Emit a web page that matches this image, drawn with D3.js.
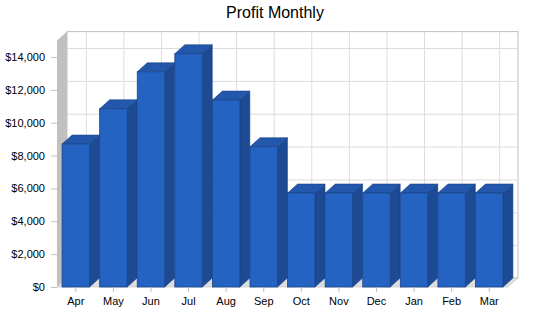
<!DOCTYPE html>
<html>
<head>
<meta charset="utf-8">
<script src="https://cdn.jsdelivr.net/npm/d3@7"></script>
<style>
  body { margin: 0; background: #fff; }
  text { font-family: "Liberation Sans", Arial, sans-serif; }
</style>
</head>
<body>
<svg id="chart" width="550" height="318"></svg>
<script>
const months = ['Apr', 'May', 'Jun', 'Jul', 'Aug', 'Sep', 'Oct', 'Nov', 'Dec', 'Jan', 'Feb', 'Mar'];
const profit = [8700, 10850, 13100, 14200, 11380, 8540, 5720, 5720, 5720, 5720, 5720, 5720];
const yTicks = [0, 2000, 4000, 6000, 8000, 10000, 12000, 14000];

const plotL = 57, plotR = 508, plotB = 287, plotT = 40.6;
const dx = 10, dy = -9;

const svg = d3.select('#chart');

const x = d3.scaleBand()
  .domain(months)
  .range([plotL, plotR]);
const y = d3.scaleLinear()
  .domain([0, 15000])
  .range([plotB, plotT]);

// title
svg.append('text')
  .attr('x', 275).attr('y', 18)
  .attr('text-anchor', 'middle')
  .attr('font-size', 16)
  .text('Profit Monthly');

// back wall
svg.append('rect')
  .attr('x', plotL + dx).attr('y', plotT + dy)
  .attr('width', plotR - plotL).attr('height', plotB - plotT)
  .attr('fill', '#fff').attr('stroke', '#c0c0c0');

// grid on back wall
svg.append('g').selectAll('line')
  .data(yTicks.slice(1))
  .enter().append('line')
  .attr('x1', plotL + dx).attr('x2', plotR + dx)
  .attr('y1', d => y(d) + dy + 0.5).attr('y2', d => y(d) + dy + 0.5)
  .attr('stroke', '#dcdcdc');
svg.append('g').selectAll('line')
  .data(months)
  .enter().append('line')
  .attr('x1', d => x(d) + x.bandwidth() / 2 + dx + 0.5)
  .attr('x2', d => x(d) + x.bandwidth() / 2 + dx + 0.5)
  .attr('y1', plotT + dy).attr('y2', plotB + dy)
  .attr('stroke', '#dcdcdc');

// left wall
svg.append('path')
  .attr('d', `M${plotL},${plotT}L${plotL + dx},${plotT + dy}L${plotL + dx},${plotB + dy}L${plotL},${plotB}Z`)
  .attr('fill', '#c0c0c0');

// floor
svg.append('path')
  .attr('d', `M${plotL},${plotB}L${plotR},${plotB}L${plotR + dx},${plotB + dy}L${plotL + dx},${plotB + dy}Z`)
  .attr('fill', '#dedede').attr('stroke', '#c8c8c8').attr('stroke-width', 0.7);

// bars
const bw = x.bandwidth() * 0.73;
const bars = svg.append('g').selectAll('g')
  .data(months.map((m, i) => ({ m, v: profit[i] })))
  .enter().append('g');

bars.append('path')   // side
  .attr('d', d => {
    const x1 = x(d.m) + (x.bandwidth() - bw) / 2 + bw, yt = y(d.v);
    return `M${x1},${plotB}L${x1 + dx},${plotB + dy}L${x1 + dx},${yt + dy}L${x1},${yt}Z`;
  })
  .attr('fill', '#1c4a93').attr('stroke', '#1a4488').attr('stroke-width', 0.6);

bars.append('path')   // top
  .attr('d', d => {
    const x0 = x(d.m) + (x.bandwidth() - bw) / 2, yt = y(d.v);
    return `M${x0},${yt}L${x0 + dx},${yt + dy}L${x0 + bw + dx},${yt + dy}L${x0 + bw},${yt}Z`;
  })
  .attr('fill', '#2257ac').attr('stroke', '#1a4488').attr('stroke-width', 0.6);

bars.append('rect')   // front
  .attr('x', d => x(d.m) + (x.bandwidth() - bw) / 2)
  .attr('y', d => y(d.v))
  .attr('width', bw)
  .attr('height', d => plotB - y(d.v))
  .attr('fill', '#2563c2').attr('stroke', '#1a4488').attr('stroke-width', 0.8);

// axes
const yAxis = d3.axisLeft(y)
  .tickValues(yTicks)
  .tickSize(6)
  .tickFormat(d => '$' + d3.format(',')(d));
svg.append('g')
  .attr('transform', `translate(${plotL},0)`)
  .call(yAxis)
  .call(g => g.select('.domain').remove())
  .call(g => g.selectAll('line').attr('stroke', '#c0c0c0'))
  .call(g => g.selectAll('text').attr('font-size', 11).attr('fill', '#000').attr('font-family', '"Liberation Sans", Arial, sans-serif').attr('x', -12));

const xAxis = d3.axisBottom(x).tickSize(5).tickPadding(5);
svg.append('g')
  .attr('transform', `translate(0,${plotB})`)
  .call(xAxis)
  .call(g => g.select('.domain').remove())
  .call(g => g.selectAll('line').attr('stroke', '#c0c0c0'))
  .call(g => g.selectAll('text').attr('font-size', 11).attr('fill', '#000').attr('font-family', '"Liberation Sans", Arial, sans-serif'));
</script>
</body>
</html>
